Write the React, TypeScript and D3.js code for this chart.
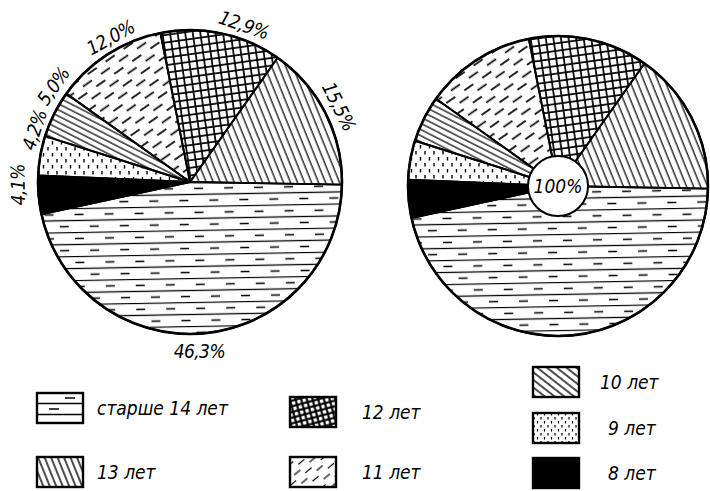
import React from 'react';
import * as d3 from 'd3';

const categories = ['старше 14 лет', '8 лет', '9 лет', '10 лет', '11 лет', '12 лет', '13 лет'];
const values = [46.3, 4.1, 4.2, 5.0, 12.0, 12.9, 15.5];
const valueLabels = ['46,3%', '4,1%', '4,2%', '5,0%', '12,0%', '12,9%', '15,5%'];
const patternKeys = ['p14', 'p8', 'p9', 'p10', 'p11', 'p12', 'p13'];
const legendColumns = [
  ['старше 14 лет', '13 лет'],
  ['12 лет', '11 лет'],
  ['10 лет', '9 лет', '8 лет'],
];
const centerLabel = '100%';

const W = 710, H = 491;
const FONT = "'DejaVu Sans Condensed', 'DejaVu Sans', sans-serif";
// label placement tweaks (degrees along the rim, px outside the rim)
const labelNudgeDeg = [2.5, 4, 8.5, 8.5, 4, 7, 0];
const labelGap = [18, 20, 12, 15, 13, 14, 15];

const pieGen = d3.pie<number>().sort(null).value(d => d)
  .startAngle((91 * Math.PI) / 180).endAngle((91 * Math.PI) / 180 + 2 * Math.PI);

function fillFor(key: string, legend = false) {
  if (key === 'p8') return '#000';
  return `url(#${legend ? 'l' : ''}${key})`;
}

function Patterns() {
  const s = { stroke: '#000', fill: 'none' } as const;
  return (
    <defs>
      <pattern id="p14" patternUnits="userSpaceOnUse" width={30} height={24} patternTransform="rotate(-1)">
        <line x1={0} x2={30} y1={0.5} y2={0.5} {...s} strokeWidth={1.3} />
        <line x1={0} x2={30} y1={12.5} y2={12.5} {...s} strokeWidth={1.3} />
        <line x1={4} x2={13} y1={6.5} y2={6.5} {...s} strokeWidth={1.5} />
        <line x1={19} x2={28} y1={18.5} y2={18.5} {...s} strokeWidth={1.5} />
      </pattern>
      <pattern id="p13" patternUnits="userSpaceOnUse" width={6.5} height={10} patternTransform="rotate(-22)">
        <line x1={2} x2={2} y1={0} y2={10} {...s} strokeWidth={1.2} />
      </pattern>
      <pattern id="p12" patternUnits="userSpaceOnUse" width={7.5} height={7.5} patternTransform="rotate(-8)">
        <line x1={0} x2={7.5} y1={1} y2={1} {...s} strokeWidth={1.7} />
        <line x1={1} x2={1} y1={0} y2={7.5} {...s} strokeWidth={1.7} />
      </pattern>
      <pattern id="p11" patternUnits="userSpaceOnUse" width={22} height={15} patternTransform="rotate(-35)">
        <line x1={0} x2={11} y1={3} y2={3} {...s} strokeWidth={1.7} />
        <line x1={11} x2={22} y1={10.5} y2={10.5} {...s} strokeWidth={1.7} />
      </pattern>
      <pattern id="p10" patternUnits="userSpaceOnUse" width={10} height={5.5} patternTransform="rotate(27)">
        <line x1={0} x2={10} y1={1} y2={1} {...s} strokeWidth={1.2} />
      </pattern>
      <pattern id="p9" patternUnits="userSpaceOnUse" width={9} height={12}>
        <line x1={2} x2={2} y1={1} y2={4.5} {...s} strokeWidth={1.4} />
        <line x1={6.5} x2={6.5} y1={7} y2={10.5} {...s} strokeWidth={1.4} />
      </pattern>
      {/* legend variants */}
      <pattern id="lp14" patternUnits="userSpaceOnUse" width={46} height={31} x={37} y={393}>
        <line x1={0} x2={46} y1={10.5} y2={10.5} {...s} strokeWidth={1.3} />
        <line x1={0} x2={46} y1={21.5} y2={21.5} {...s} strokeWidth={1.3} />
        <line x1={28} x2={38} y1={5} y2={5} {...s} strokeWidth={1.5} />
        <line x1={12} x2={22} y1={16} y2={16} {...s} strokeWidth={1.5} />
      </pattern>
      <pattern id="lp13" patternUnits="userSpaceOnUse" width={6} height={10} patternTransform="rotate(-22)">
        <line x1={2} x2={2} y1={0} y2={10} {...s} strokeWidth={1.4} />
      </pattern>
      <pattern id="lp12" patternUnits="userSpaceOnUse" width={5.5} height={5.5} patternTransform="rotate(-15)">
        <rect width={5.5} height={5.5} fill="#000" />
        <rect x={1.6} y={1.6} width={3.4} height={3.4} fill="#fff" />
      </pattern>
      <pattern id="lp11" patternUnits="userSpaceOnUse" width={20} height={11} patternTransform="rotate(-40)">
        <line x1={0} x2={8} y1={3} y2={3} {...s} strokeWidth={1.2} />
        <line x1={10} x2={18} y1={8.5} y2={8.5} {...s} strokeWidth={1.2} />
      </pattern>
      <pattern id="lp10" patternUnits="userSpaceOnUse" width={10} height={6} patternTransform="rotate(38)">
        <line x1={0} x2={10} y1={1} y2={1} {...s} strokeWidth={1.4} />
      </pattern>
      <pattern id="lp9" patternUnits="userSpaceOnUse" width={7} height={8}>
        <line x1={2} x2={2} y1={1} y2={3.5} {...s} strokeWidth={1.2} />
        <line x1={5.5} x2={5.5} y1={5} y2={7.5} {...s} strokeWidth={1.2} />
      </pattern>
    </defs>
  );
}

function Pie({ cx, cy, r, inner, withLabels }: { cx: number; cy: number; r: number; inner: number; withLabels: boolean }) {
  const arcs = pieGen(values);
  const arc = d3.arc<d3.PieArcDatum<number>>().innerRadius(0).outerRadius(r);
  return (
    <g transform={`translate(${cx},${cy})`}>
      {arcs.map((a, i) => (
        <path key={i} d={arc(a) || ''} fill="#fff" />
      ))}
      {arcs.map((a, i) => (
        <path key={'f' + i} d={arc(a) || ''} fill={fillFor(patternKeys[i])} stroke="#000" strokeWidth={1.9} strokeLinejoin="round" />
      ))}
      <circle r={r} fill="none" stroke="#000" strokeWidth={2.6} />
      {inner > 0 && (
        <g>
          <circle r={inner} fill="#fff" stroke="#000" strokeWidth={2} />
          <text x={0} y={7} textAnchor="middle" fontFamily={FONT} fontStyle="italic" fontSize={19}>{centerLabel}</text>
        </g>
      )}
      {withLabels && arcs.map((a, i) => {
        const mid = (a.startAngle + a.endAngle) / 2 + (labelNudgeDeg[i] * Math.PI) / 180;
        const deg = (mid * 180) / Math.PI;
        const bottom = i === 0;
        const rr = r + labelGap[i];
        const x = rr * Math.sin(mid);
        const y = -rr * Math.cos(mid);
        const rot = bottom ? 0 : deg > 180 ? deg - 360 : deg;
        return (
          <text key={'t' + i} transform={`translate(${x},${y}) rotate(${rot})`} textAnchor="middle" dy="0.35em"
            fontFamily={FONT} fontStyle="italic" fontSize={19} letterSpacing={-0.6}>{valueLabels[i]}</text>
        );
      })}
    </g>
  );
}

export default function App() {
  const colX = [37, 290, 533];
  const colTextX = [97, 362, 600];
  const colRowY = [[393, 457], [397, 457], [367, 413, 458]];
  return (
    <svg width={W} height={H} style={{ position: 'absolute', left: 0, top: 0, background: '#fff' }}>
      <Patterns />
      <rect width={W} height={H} fill="#fff" />
      <Pie cx={190} cy={182} r={152} inner={0} withLabels={true} />
      <Pie cx={558} cy={186} r={150} inner={30} withLabels={false} />
      {legendColumns.map((col, ci) => col.map((name, ri) => {
        const idx = categories.indexOf(name);
        const key = patternKeys[idx];
        const x = colX[ci];
        const y = colRowY[ci][ri];
        const tx = name === '9 лет' || name === '8 лет' ? colTextX[ci] + 8 : colTextX[ci];
        return (
          <g key={name}>
            <rect x={x} y={y} width={46} height={30} fill="#fff" />
            <rect x={x} y={y} width={46} height={30} fill={fillFor(key, true)} stroke="#000" strokeWidth={2.4} />
            <text x={tx} y={y + 22} fontFamily={FONT} fontStyle="italic" fontSize={19}>{name}</text>
          </g>
        );
      }))}
    </svg>
  );
}
